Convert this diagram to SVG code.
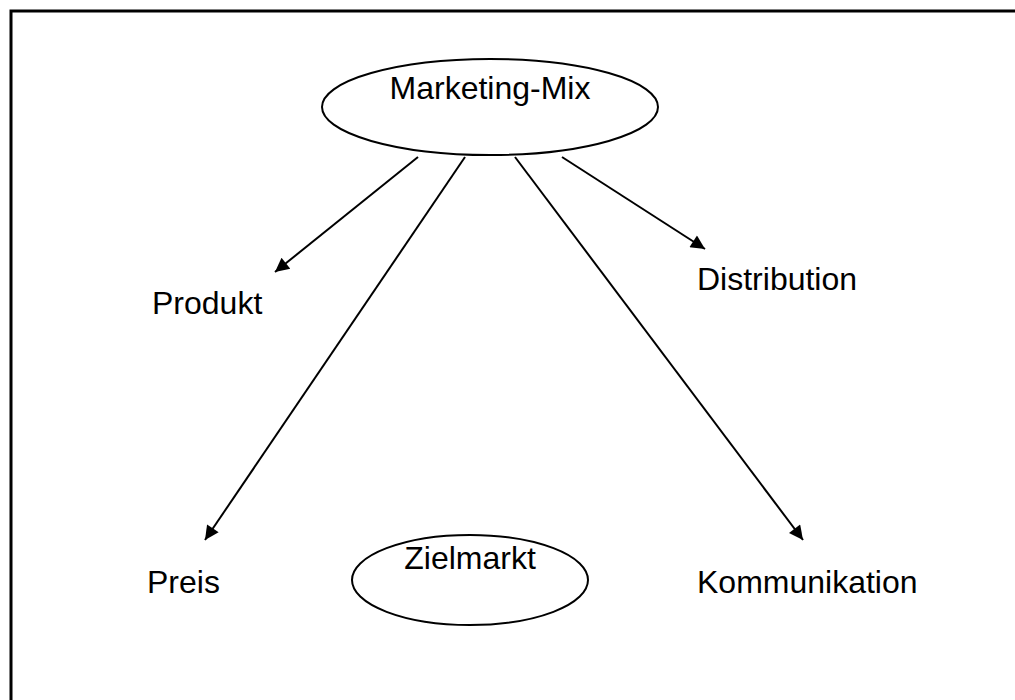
<svg xmlns="http://www.w3.org/2000/svg" width="1015" height="700" viewBox="0 0 1015 700">
<defs>
<style>
text{font-family:"Liberation Sans",Arial,sans-serif;font-size:32px;fill:#000}
.node ellipse{fill:#fff;stroke:#000;stroke-width:2}
.conn line{stroke:#000;stroke-width:2;marker-end:url(#ah)}
</style>
<marker id="ah" viewBox="0 0 10 10" refX="10" refY="5" markerWidth="8" markerHeight="7" markerUnits="strokeWidth" orient="auto">
<path d="M0,0 L10,5 L0,10 z" fill="#000"/>
</marker>
</defs>
<rect width="1015" height="700" fill="#fff"/>
<path d="M11,720 V11 H1030" fill="none" stroke="#000" stroke-width="3"/>
<g id="connectors" class="conn">
<line x1="418" y1="157" x2="275" y2="272"/>
<line x1="465" y1="157" x2="205" y2="540"/>
<line x1="515" y1="157" x2="803" y2="540"/>
<line x1="562" y1="157" x2="705" y2="249"/>
</g>
<g id="marketing-mix" class="node">
<ellipse cx="490" cy="107" rx="168" ry="48"/>
<text x="490" y="99" text-anchor="middle">Marketing-Mix</text>
</g>
<g id="zielmarkt" class="node">
<ellipse cx="470" cy="580" rx="118" ry="45"/>
<text x="470" y="569" text-anchor="middle">Zielmarkt</text>
</g>
<g id="produkt"><text x="152" y="314">Produkt</text></g>
<g id="distribution"><text x="697" y="290">Distribution</text></g>
<g id="preis"><text x="147" y="593">Preis</text></g>
<g id="kommunikation"><text x="697" y="593">Kommunikation</text></g>
</svg>
